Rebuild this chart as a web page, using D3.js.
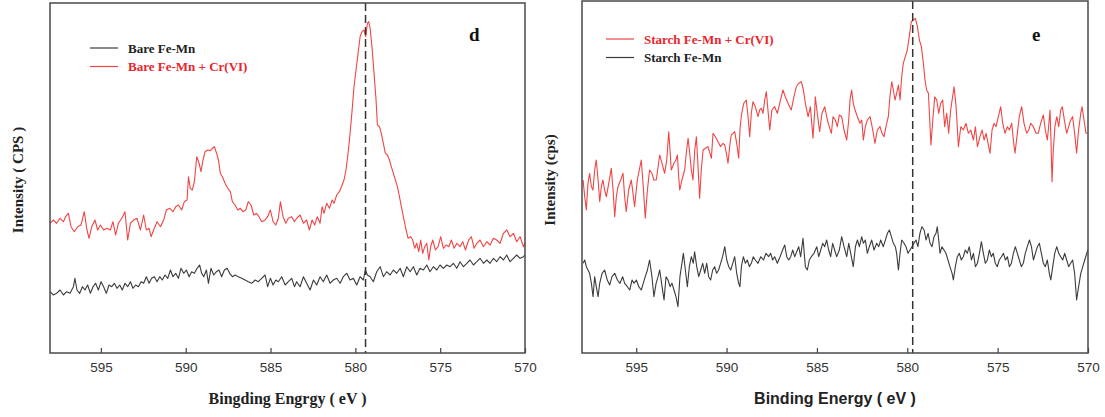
<!DOCTYPE html>
<html>
<head>
<meta charset="utf-8">
<title>Cr 2p XPS spectra</title>
<script src="https://cdnjs.cloudflare.com/ajax/libs/d3/7.8.5/d3.min.js"></script>
<style>
body { margin: 0; background: #fff; }
.tick text { font-family: "Liberation Sans", Arial, sans-serif; font-size: 13.5px; fill: #333; }
.tick line { stroke: #444; stroke-width: 1.2; }
</style>
</head>
<body>
<svg width="1105" height="417"></svg>
<script>
// binding energy (eV), intensity (a.u.)
var energyTicks = [595, 590, 585, 580, 575, 570];
var peakD = 579.4, peakE = 579.7;

var bareFeMn = [
[598.00,61.3],[597.80,58],[597.61,59.7],[597.41,63],[597.21,58],[597.02,61.3],[596.82,59.7],[596.62,66.3],[596.53,74.7],[596.41,63],[596.25,59.7],[596.09,66.3],[595.94,63],[595.78,68],[595.62,59.7],[595.46,66.3],[595.31,69.7],[595.15,63],[594.99,71.3],[594.84,66.3],[594.68,59.7],[594.52,68],[594.36,66.3],[594.21,69.7],[594.05,64.7],[593.89,68],[593.74,63],[593.58,69.7],[593.42,66.3],[593.26,71.3],[593.11,64.7],[592.95,68],[592.79,66.3],[592.63,71.3],[592.48,69.7],[592.32,76.3],[592.16,69.7],[592.01,74.7],[591.85,76.3],[591.69,71.3],[591.53,76.3],[591.38,73],[591.22,78],[591.06,74.7],[590.90,83],[590.75,76.3],[590.59,79.7],[590.43,74.7],[590.28,84.7],[590.12,79.7],[589.96,83],[589.80,76.3],[589.65,81.3],[589.49,79.7],[589.33,84.7],[589.18,88],[589.06,79.7],[588.94,76.3],[588.78,83],[588.66,69.7],[588.51,84.7],[588.35,78],[588.19,81.3],[588.04,83],[587.88,76.3],[587.72,83],[587.56,84.7],[587.41,79.7],[587.25,76.3],[587.09,78],[586.90,76.3],[586.70,74.7],[586.50,73],[586.31,71.3],[586.11,69.7],[585.91,73],[585.72,71.3],[585.52,74.7],[585.32,78],[585.17,66.3],[585.01,74.7],[584.85,68],[584.69,73],[584.54,71.3],[584.34,76.3],[584.14,68],[583.95,71.3],[583.75,74.7],[583.59,66.3],
[583.46,71.3],[583.26,66.3],[583.06,76.3],[582.87,69.7],[582.67,63],[582.47,73],[582.28,68],[582.08,76.3],[581.89,71.3],[581.69,78],[581.49,69.7],[581.30,73],[581.10,74.7],[580.90,69.7],[580.71,76.3],[580.51,79.7],[580.31,73],[580.12,74.7],[579.92,68],[579.72,76.3],[579.53,73],[579.41,83],[579.29,78],[579.13,76.3],[578.94,71.3],[578.74,81.3],[578.54,86.3],[578.35,76.3],[578.15,81.3],[577.95,78],[577.76,83],[577.56,79.7],[577.36,84.7],[577.17,76.3],[576.97,86.3],[576.77,81.3],[576.58,86.3],[576.38,78],[576.19,84.7],[575.99,83],[575.79,88],[575.60,81.3],[575.40,86.3],[575.20,83],[575.01,88],[574.81,84.7],[574.61,88],[574.42,86.3],[574.22,89.7],[574.02,84.7],[573.83,91.3],[573.63,86.3],[573.43,89.7],[573.24,93],[573.04,88],[572.84,91.3],[572.65,94.7],[572.45,89.7],[572.25,93],[572.06,89.7],[571.86,94.7],[571.67,91.3],[571.47,96.3],[571.27,93],[571.08,98],[570.88,91.3],[570.68,94.7],[570.49,98],[570.29,94.7],[570.09,96.3],[570.00,98]
];

var bareFeMnCr = [
[598.00,129.7],[597.80,133],[597.61,129.7],[597.41,134.7],[597.21,131.3],[597.08,136.3],[596.92,139.7],[596.76,126.3],[596.57,121.3],[596.37,126.3],[596.17,128],[595.98,141.3],[595.82,123],[595.70,114.7],[595.54,126.3],[595.35,133],[595.19,123],[595.03,128],[594.84,123],[594.64,124.7],[594.44,123],[594.29,131.3],[594.13,118],[593.97,129.7],[593.77,134.7],[593.58,141.3],[593.42,113],[593.26,129.7],[593.07,133],[592.87,134.7],[592.67,123],[592.48,138],[592.32,123],[592.16,124.7],[592.04,116.3],[591.89,123],[591.69,131.3],[591.49,126.3],[591.30,133],[591.14,143],[590.94,144.7],[590.75,141.3],[590.59,146.3],[590.43,148],[590.24,143],[590.08,151.3],[589.92,153],[589.84,176.3],[589.73,164.7],[589.61,163],[589.49,171.3],[589.35,196.3],[589.21,189.7],[589.10,181.3],[588.98,193],[588.86,201.3],[588.70,203],[588.55,202.3],[588.43,204.7],[588.31,206.3],[588.19,200.3],[588.07,193],[587.96,179.7],[587.84,176.3],[587.68,169.7],[587.52,164.7],[587.37,161.3],[587.25,151.3],[587.09,148],[586.93,143],[586.78,144.7],[586.62,141.3],[586.46,143],[586.31,151.3],[586.15,148],[585.99,138],[585.83,139.7],[585.68,136.3],[585.52,131.3],[585.32,133],[585.17,136.3],[585.01,143],[584.85,131.3],[584.69,128],[584.54,134.7],[584.42,151.3],[584.26,136.3],[584.10,129.7],[583.95,134.7],[583.75,136.3],[583.59,131.3],
[583.46,134.7],[583.26,138],[583.06,129.7],[582.87,133],[582.71,123],[582.55,133],[582.40,128],[582.24,136.3],[582.08,129.7],[581.96,146.3],[581.85,139.7],[581.69,149.7],[581.53,144.7],[581.37,153],[581.26,149.7],[581.10,158],[580.94,161.3],[580.78,168],[580.67,173],[580.55,183],[580.43,199.7],[580.31,219.7],[580.19,243],[580.08,266.3],[579.96,283],[579.84,299.7],[579.72,316.3],[579.61,321.3],[579.49,323],[579.39,316.3],[579.29,329.7],[579.21,331.3],[579.13,324.7],[579.02,306.3],[578.90,279.7],[578.78,253],[578.70,228],[578.58,226.3],[578.47,219.7],[578.35,209.7],[578.23,199.7],[578.11,198],[577.99,193],[577.88,186.3],[577.76,179.7],[577.64,173],[577.52,166.3],[577.40,156.3],[577.29,146.3],[577.17,136.3],[577.01,123],[576.89,114.7],[576.74,116.3],[576.62,113],[576.50,104.7],[576.38,109.7],[576.26,101.3],[576.15,113],[576.03,99.7],[575.91,106.3],[575.79,109.7],[575.67,93],[575.56,106.3],[575.44,113],[575.28,103],[575.12,106.3],[574.97,116.3],[574.81,104.7],[574.65,108],[574.49,106.3],[574.34,113],[574.18,104.7],[574.02,109.7],[573.83,106.3],[573.67,111.3],[573.51,103],[573.32,113],[573.16,116.3],[573.00,104.7],[572.84,109.7],[572.65,113],[572.45,106.3],[572.25,111.3],[572.06,108],[571.86,114.7],[571.67,113],[571.47,109.7],[571.27,119.7],[571.07,123],[570.88,116.3],[570.68,119.7],[570.49,111.3],[570.29,116.3],[570.09,106.3],[570.00,109.7]
];

var starchFeMnCr = [
[597.94,173],[597.85,156.3],[597.76,143],[597.67,169.7],[597.58,179.7],[597.48,166.3],[597.39,163],[597.30,183],[597.21,193],[597.11,173],[597.02,151.3],[596.93,166.3],[596.84,173],[596.75,163],[596.65,156.3],[596.52,169.7],[596.38,184.7],[596.28,163],[596.19,136.3],[596.10,156.3],[596.01,166.3],[595.86,173],[595.73,179.7],[595.64,156.3],[595.55,141.3],[595.42,163],[595.27,173],[595.18,159.7],[595.09,146.3],[594.94,173],[594.83,183],[594.72,193],[594.61,166.3],[594.50,134.7],[594.38,163],[594.26,183],[594.13,179.7],[594.02,173],[593.89,173],[593.79,186.3],[593.70,198],[593.57,189.7],[593.43,179.7],[593.31,193],[593.20,221.3],[593.13,203],[593.06,183],[592.91,189.7],[592.80,193],[592.72,198],[592.65,176.3],[592.59,163],[592.47,173],[592.32,183],[592.21,203],[592.13,214.7],[592.02,196.3],[591.95,183],[591.86,173],[591.76,203],[591.67,216.3],[591.58,186.3],[591.49,154.7],[591.40,183],[591.30,203],[591.17,204.7],[591.03,206.3],[590.92,199.7],[590.84,194.7],[590.75,219.7],[590.62,216.3],[590.47,211.3],[590.33,206.3],[590.20,209.7],[590.10,208],[590.01,199.7],[589.92,189.7],[589.83,206.3],[589.74,218],[589.64,219.7],[589.55,221.3],[589.44,209.7],[589.33,194.7],[589.26,223],[589.18,238],[589.05,249.7],[588.91,253],[588.81,236.3],[588.72,216.3],[588.63,239.7],[588.54,251.3],[588.41,246.3],[588.26,236.3],[588.17,243],[588.08,244.7],[587.98,239.7],[587.89,253],[587.80,261.3],[587.71,243],[587.61,223],[587.49,243],[587.34,246.3],[587.19,239.7],[587.06,249.7],[586.97,256.3],[586.88,263],[586.75,256.3],[586.60,249.7],[586.51,246.3],[586.42,243],[586.27,256.3],[586.14,266.3],[586.01,269.7],[585.86,271.3],[585.75,263],[585.64,249.7],[585.49,236.3],[585.36,246.3],[585.22,214.7],[585.12,243],[585.09,256.3],[584.98,239.7],[584.85,221.3],[584.72,239.7],[584.57,246.3],[584.42,233],[584.29,224.7],[584.20,219.7],[584.11,236.3],[583.98,233],[583.87,226.3],
[583.76,238],[583.63,236.3],[583.50,223],[583.35,213],[583.24,233],[583.17,253],[583.08,263],[582.99,249.7],[582.89,243],[582.76,236.3],[582.62,229.7],[582.52,233],[582.43,213],[582.32,226.3],[582.21,233],[582.06,236.3],[581.91,223],[581.79,209.7],[581.66,223],[581.51,226.3],[581.40,219.7],[581.29,216.3],[581.18,226.3],[581.05,236.3],[580.96,256.3],[580.86,271.3],[580.77,263],[580.68,253],[580.59,259.7],[580.49,268],[580.40,253],[580.31,276.3],[580.22,289.7],[580.11,296.3],[580.00,303],[579.89,316.3],[579.78,331.3],[579.66,333],[579.55,334.7],[579.44,326.3],[579.33,313],[579.22,306.3],[579.11,289.7],[579.02,273],[578.93,263],[578.83,259.7],[578.74,226.3],[578.69,208],[578.59,233],[578.48,256.3],[578.37,253],[578.26,239.7],[578.15,249.7],[578.04,253],[577.93,226.3],[577.82,239.7],[577.71,219.7],[577.60,243],[577.49,256.3],[577.41,266.3],[577.30,246.3],[577.17,206.3],[577.04,226.3],[576.90,223],[576.75,229.7],[576.62,219.7],[576.49,223],[576.34,213],[576.23,226.3],[576.12,206.3],[575.98,216.3],[575.86,223],[575.75,213],[575.64,219.7],[575.53,209.7],[575.42,199.7],[575.31,223],[575.20,229.7],[575.09,226.3],[574.96,236.3],[574.83,246.3],[574.72,229.7],[574.59,219.7],[574.46,226.3],[574.35,223],[574.22,229.7],[574.13,213],[574.04,199.7],[573.91,219.7],[573.80,236.3],[573.67,246.3],[573.54,229.7],[573.39,219.7],[573.28,223],[573.17,229.7],[573.02,226.3],[572.88,219.7],[572.75,219.7],[572.62,229.7],[572.47,238],[572.36,223],[572.25,213],[572.18,226.3],[572.10,243],[572.05,213],[571.99,171.3],[571.92,203],[571.83,226.3],[571.73,236.3],[571.62,226.3],[571.51,243],[571.42,246.3],[571.31,233],[571.18,219.7],[571.07,226.3],[570.96,233],[570.85,236.3],[570.74,219.7],[570.63,199.7],[570.52,223],[570.40,239.7],[570.33,246.3],[570.22,233],[570.11,219.7],[570.04,219.7]
];

var starchFeMn = [
[597.94,89.7],[597.85,93],[597.76,86.3],[597.67,83],[597.58,79.7],[597.48,69.7],[597.39,56.3],[597.30,76.3],[597.21,66.3],[597.11,56.3],[597.02,69.7],[596.89,79.7],[596.75,83],[596.60,73],[596.47,68],[596.34,76.3],[596.19,79.7],[596.04,73],[595.90,69.7],[595.75,76.3],[595.64,69.7],[595.49,66.3],[595.36,63],[595.23,73],[595.12,69.7],[594.99,73],[594.86,66.3],[594.72,63],[594.61,69.7],[594.50,76.3],[594.38,83],[594.26,93],[594.13,76.3],[594.02,56.3],[593.90,69.7],[593.79,76.3],[593.70,83],[593.57,66.3],[593.46,53],[593.35,76.3],[593.24,73],[593.13,66.3],[593.02,69.7],[592.91,63],[592.80,56.3],[592.69,46.3],[592.58,76.3],[592.47,89.7],[592.39,99.7],[592.28,83],[592.17,66.3],[592.06,86.3],[591.95,96.3],[591.84,89.7],[591.77,101.3],[591.65,86.3],[591.54,76.3],[591.43,83],[591.32,89.7],[591.21,79.7],[591.10,89.7],[590.99,76.3],[590.88,73],[590.77,83],[590.66,86.3],[590.55,79.7],[590.44,83],[590.33,89.7],[590.22,96.3],[590.10,106.3],[589.99,93],[589.88,86.3],[589.77,83],[589.66,89.7],[589.55,96.3],[589.44,79.7],[589.33,69.7],[589.26,66.3],[589.18,86.3],[589.07,96.3],[588.96,89.7],[588.85,93],[588.74,86.3],[588.63,89.7],[588.52,96.3],[588.41,93],[588.26,89.7],[588.11,96.3],[587.96,93],[587.82,99.7],[587.67,96.3],[587.56,99.7],[587.45,93],[587.34,96.3],[587.19,89.7],[587.04,96.3],[586.90,103],[586.78,108],[586.67,96.3],[586.56,93],[586.45,96.3],[586.34,103],[586.23,96.3],[586.12,101.3],[586.01,106.3],[585.90,96.3],[585.77,114.7],[585.64,86.3],[585.53,83],[585.42,93],[585.31,96.3],[585.16,99.7],[585.01,106.3],[584.90,96.3],[584.79,103],[584.68,109.7],[584.57,106.3],[584.46,113],[584.35,103],[584.24,96.3],[584.13,109.7],[584.02,103],[583.91,96.3],
[583.76,103],[583.63,116.3],[583.50,106.3],[583.35,96.3],[583.24,109.7],[583.13,99.7],[582.99,86.3],[582.87,106.3],[582.76,113],[582.65,106.3],[582.52,116.3],[582.43,109.7],[582.32,113],[582.21,99.7],[582.10,106.3],[581.97,113],[581.84,103],[581.69,109.7],[581.58,106.3],[581.47,113],[581.33,106.3],[581.21,113],[581.10,119.7],[580.99,123],[580.88,116.3],[580.77,109.7],[580.66,106.3],[580.59,99.7],[580.49,83],[580.40,99.7],[580.31,113],[580.18,109.7],[580.07,106.3],[579.96,99.7],[579.85,103],[579.74,106.3],[579.63,109.7],[579.52,113],[579.41,106.3],[579.30,119.7],[579.19,126.3],[579.07,123],[578.96,113],[578.85,119.7],[578.74,109.7],[578.63,106.3],[578.52,116.3],[578.41,119.7],[578.34,126.3],[578.26,113],[578.19,99.7],[578.08,106.3],[577.97,103],[577.86,99.7],[577.75,93],[577.64,86.3],[577.52,79.7],[577.45,73],[577.34,86.3],[577.23,96.3],[577.12,99.7],[577.01,93],[576.90,96.3],[576.79,103],[576.68,99.7],[576.57,106.3],[576.45,93],[576.34,99.7],[576.23,86.3],[576.12,89.7],[576.01,99.7],[575.90,111.3],[575.79,99.7],[575.68,89.7],[575.57,93],[575.46,103],[575.35,96.3],[575.24,99.7],[575.13,89.7],[575.02,86.3],[574.91,93],[574.79,96.3],[574.68,99.7],[574.57,93],[574.46,96.3],[574.35,86.3],[574.24,89.7],[574.13,99.7],[574.02,106.3],[573.91,99.7],[573.80,93],[573.69,86.3],[573.58,89.7],[573.47,99.7],[573.36,106.3],[573.24,113],[573.13,106.3],[573.02,93],[572.91,99.7],[572.80,106.3],[572.69,109.7],[572.58,99.7],[572.47,89.7],[572.36,86.3],[572.25,93],[572.14,79.7],[572.06,73],[571.95,86.3],[571.84,99.7],[571.73,106.3],[571.62,99.7],[571.51,96.3],[571.40,93],[571.29,99.7],[571.18,93],[571.07,86.3],[570.96,89.7],[570.85,93],[570.74,79.7],[570.63,53],[570.52,66.3],[570.40,79.7],[570.29,86.3],[570.18,93],[570.07,99.7],[570.00,103]
];

var svg = d3.select("svg");
var serif = "'Liberation Serif', 'Times New Roman', serif";
var sans = "'Liberation Sans', Arial, sans-serif";

function drawPanel(p) {
    var x = d3.scaleLinear().domain([598, 570]).range([p.left, p.right]);
    var y = d3.scaleLinear().domain([0, p.bottom - p.top]).range([p.bottom, p.top]);
    var g = svg.append("g");

    var line = d3.line()
        .x(function(d) { return x(d[0]); })
        .y(function(d) { return y(d[1]); });

    p.series.forEach(function(s) {
        g.append("path")
            .datum(s.data)
            .attr("fill", "none")
            .attr("stroke", s.color)
            .attr("stroke-width", 1.1)
            .attr("stroke-linejoin", "round")
            .attr("d", line);
    });

    // reference line at the Cr 2p3/2 peak
    g.append("line")
        .attr("x1", x(p.peak)).attr("x2", x(p.peak))
        .attr("y1", p.top).attr("y2", p.bottom)
        .attr("stroke", "#333")
        .attr("stroke-width", 1.5)
        .attr("stroke-dasharray", "8,4");

    var ax = g.append("g")
        .attr("transform", "translate(0," + p.bottom + ")")
        .call(d3.axisBottom(x).tickValues(energyTicks).tickSizeInner(-5).tickSizeOuter(0).tickPadding(9));
    ax.select(".domain").remove();

    g.append("rect")
        .attr("x", p.left).attr("y", p.top)
        .attr("width", p.right - p.left).attr("height", p.bottom - p.top)
        .attr("fill", "none")
        .attr("stroke", "#4a4a4a")
        .attr("stroke-width", 1.5);

    // legend
    p.series.forEach(function(s, i) {
        var ly = p.legendY + i * 18.5;
        g.append("line")
            .attr("x1", p.legendX).attr("x2", p.legendX + 28)
            .attr("y1", ly).attr("y2", ly)
            .attr("stroke", s.color).attr("stroke-width", 1.2);
        g.append("text")
            .attr("x", p.legendX + 38).attr("y", ly + 4.5)
            .attr("font-family", serif).attr("font-weight", "bold").attr("font-size", 13)
            .attr("fill", s.textColor)
            .text(s.name);
    });

    g.append("text")
        .attr("x", p.letterX).attr("y", 41)
        .attr("font-family", serif).attr("font-weight", "bold").attr("font-size", 19)
        .attr("fill", "#111")
        .text(p.letter);

    g.append("text")
        .attr("x", (p.left + p.right) / 2).attr("y", 404)
        .attr("text-anchor", "middle")
        .attr("font-family", p.xFont).attr("font-weight", "bold").attr("font-size", p.xSize)
        .attr("fill", "#222")
        .text(p.xTitle);

    g.append("text")
        .attr("transform", "translate(" + p.yTitleX + ",180) rotate(-90)")
        .attr("text-anchor", "middle")
        .attr("font-family", serif).attr("font-weight", "bold").attr("font-size", 15)
        .attr("fill", "#222")
        .text(p.yTitle);
}

drawPanel({
    left: 50, right: 525, top: 3, bottom: 353,
    peak: peakD,
    series: [
        { name: "Bare Fe-Mn", data: bareFeMn, color: "#3c3c3c", textColor: "#222" },
        { name: "Bare Fe-Mn + Cr(VI)", data: bareFeMnCr, color: "#f04545", textColor: "#e8262a" }
    ],
    legendX: 90, legendY: 48,
    letter: "d", letterX: 469,
    xTitle: "Bingding Engrgy ( eV )", xFont: serif, xSize: 16,
    yTitle: "Intensity ( CPS )", yTitleX: 23
});

drawPanel({
    left: 582, right: 1088, top: 1, bottom: 353,
    peak: peakE,
    series: [
        { name: "Starch Fe-Mn + Cr(VI)", data: starchFeMnCr, color: "#f04545", textColor: "#e8262a" },
        { name: "Starch Fe-Mn", data: starchFeMn, color: "#3c3c3c", textColor: "#222" }
    ],
    legendX: 606, legendY: 39,
    letter: "e", letterX: 1032,
    xTitle: "Binding Energy ( eV )", xFont: sans, xSize: 16,
    yTitle: "Intensity (cps)", yTitleX: 555
});
</script>
</body>
</html>
